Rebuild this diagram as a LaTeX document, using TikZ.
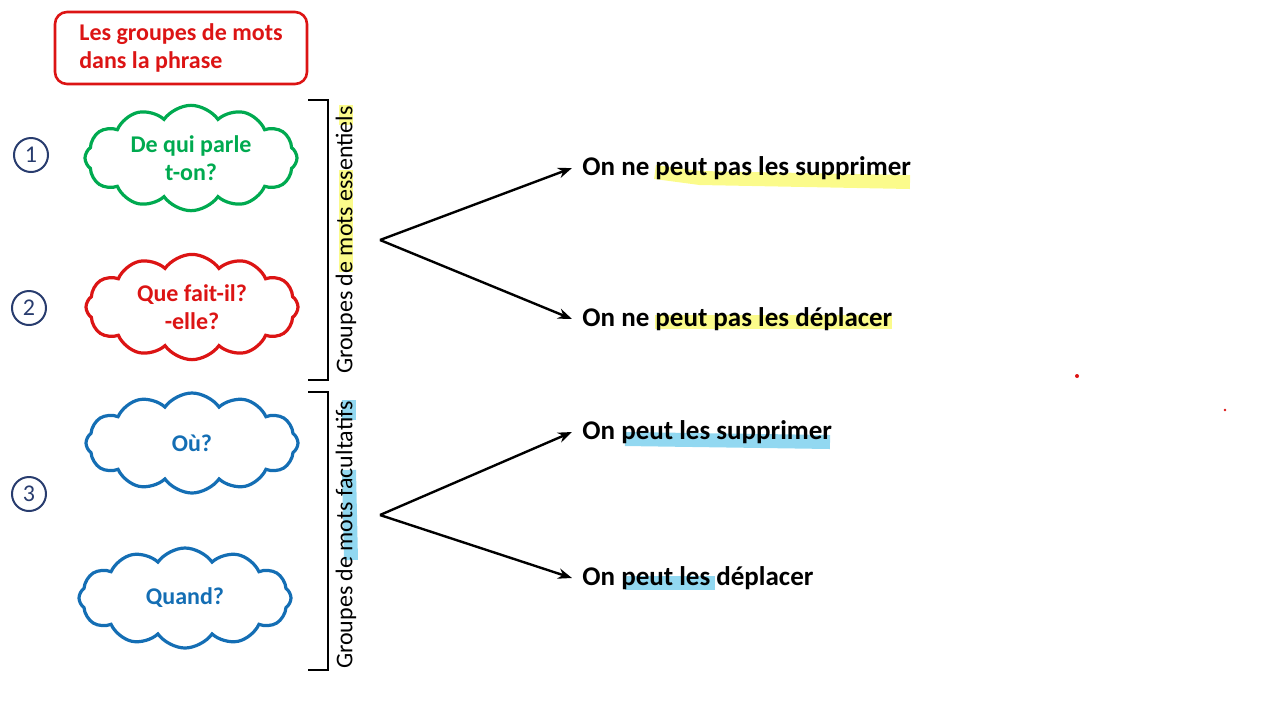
\documentclass[tikz,border=0pt]{standalone}
\usepackage{fontspec}
\setmainfont{Carlito}
\usetikzlibrary{shapes.symbols,arrows.meta}
\definecolor{cgreen}{RGB}{0,170,80}
\definecolor{cred}{RGB}{220,20,20}
\definecolor{cblue}{RGB}{20,110,180}
\definecolor{cnavy}{RGB}{40,60,110}
\definecolor{hly}{RGB}{250,250,90}
\definecolor{hlb}{RGB}{100,200,235}
\begin{document}
\begin{tikzpicture}[x=0.5pt,y=-0.5pt,
  cl/.style={cloud, cloud puffs=12, cloud puff arc=110, aspect=2.3, line width=1.6pt, draw, minimum width=106pt, minimum height=50pt, font=\bfseries\large, align=center},
  num/.style={circle, draw=cnavy, line width=1pt, minimum size=17pt, inner sep=0pt, font=\large, text=cnavy},
  stmt/.style={anchor=west, font=\bfseries\fontsize{13.5}{16}\selectfont, inner sep=0pt},
  arr/.style={-{Stealth[length=7pt]}, line width=1.2pt},
  brk/.style={line width=1.3pt},
  vt/.style={rotate=90, font=\large, inner sep=0pt},
  hl/.style={line width=7pt, opacity=0.7}]
\useasboundingbox (0,0) rectangle (1280,720);
\node[draw=cred, line width=1.3pt, rounded corners=6pt, minimum width=126pt, minimum height=36pt, text=cred, font=\bfseries\large, align=left] (title) at (181,48) {Les groupes de mots\\dans la phrase};
\node[num] (n1) at (31,155) {1};
\node[num] (n2) at (29,308) {2};
\node[num] (n3) at (29,494) {3};
\node[cl, draw=cgreen, text=cgreen] (c1) at (191,158) {De qui parle\\t-on?};
\node[cl, draw=cred, text=cred] (c2) at (192,307) {Que fait-il?\\-elle?};
\node[cl, draw=cblue, text=cblue] (c3) at (192,443) {Où?};
\node[cl, draw=cblue, text=cblue] (c4) at (185,598) {Quand?};
% highlights
\draw[hl, hly] (346,105) -- (346,125);
\draw[hl, hly] (346,170) -- (346,272);
\draw[hl, hlb] (349,400) -- (349,420);
\draw[hl, hlb] (349,470) -- (351,560);
\draw[hl, hly] (655,172) -- (700,178) -- (910,182);
\draw[hl, hly] (655,322) -- (892,322);
\draw[hl, hlb] (625,439) -- (830,442);
\draw[hl, hlb] (625,583) -- (715,583);
\draw[brk] (308,100) -- (328,100) -- (328,380) -- (308,380);
\draw[brk] (308,392) -- (328,392) -- (328,670) -- (308,670);
\node[vt] (v1) at (346,240) {Groupes de mots essentiels};
\node[vt] (v2) at (346,535) {Groupes de mots facultatifs};
\coordinate (p1) at (380,240);
\coordinate (p2) at (380,515);
\node[stmt] (s1) at (582,168) {On ne peut pas les supprimer};
\node[stmt] (s2) at (582,319) {On ne peut pas les déplacer};
\node[stmt] (s3) at (582,432) {On peut les supprimer};
\node[stmt] (s4) at (582,578) {On peut les déplacer};
\draw[arr] (p1) -- ([xshift=-5pt]s1.west);
\draw[arr] (p1) -- ([xshift=-5pt]s2.west);
\draw[arr] (p2) -- ([xshift=-5pt]s3.west);
\draw[arr] (p2) -- ([xshift=-5pt]s4.west);
\fill[cred] (1077,376) circle (1pt);
\fill[cred] (1225,410) circle (0.7pt);
\end{tikzpicture}
\end{document}
